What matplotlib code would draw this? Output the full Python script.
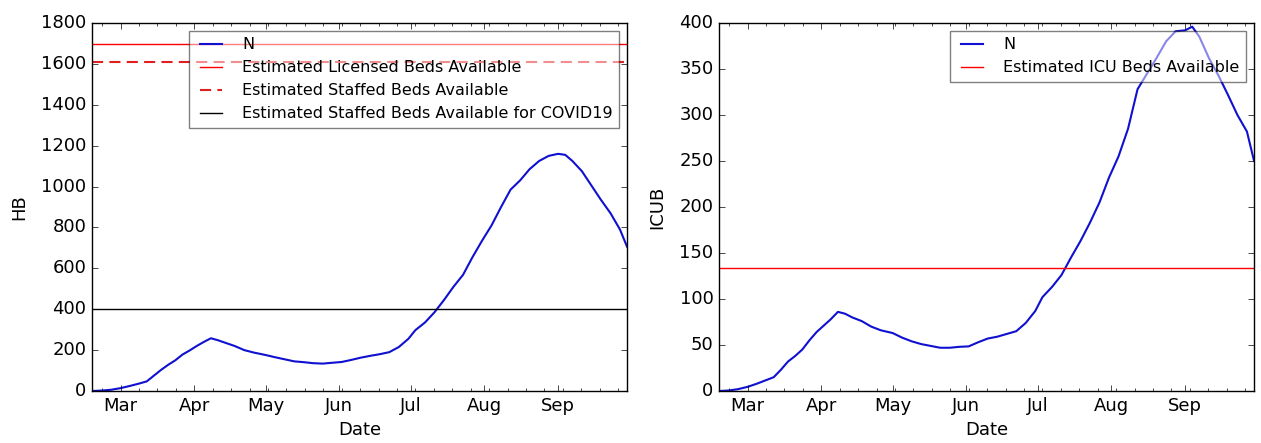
import pandas as pd
import matplotlib
matplotlib.use('Agg')
import matplotlib.pyplot as plt
import matplotlib.dates as mdates
from matplotlib.ticker import AutoMinorLocator

plt.style.use('classic')

dates = ['2020-02-18', '2020-02-22', '2020-02-26', '2020-03-01', '2020-03-05',
         '2020-03-09', '2020-03-12', '2020-03-15', '2020-03-18', '2020-03-21',
         '2020-03-24', '2020-03-27', '2020-03-30', '2020-04-02', '2020-04-05',
         '2020-04-08', '2020-04-11', '2020-04-14', '2020-04-18', '2020-04-22',
         '2020-04-26', '2020-05-01', '2020-05-05', '2020-05-09', '2020-05-13',
         '2020-05-17', '2020-05-21', '2020-05-25', '2020-05-29', '2020-06-02',
         '2020-06-06', '2020-06-10', '2020-06-14', '2020-06-18', '2020-06-22',
         '2020-06-26', '2020-06-30', '2020-07-03', '2020-07-07', '2020-07-11',
         '2020-07-15', '2020-07-19', '2020-07-23', '2020-07-27', '2020-07-31',
         '2020-08-04', '2020-08-08', '2020-08-12', '2020-08-16', '2020-08-20',
         '2020-08-24', '2020-08-28', '2020-09-01', '2020-09-04', '2020-09-07',
         '2020-09-11', '2020-09-15', '2020-09-19', '2020-09-23', '2020-09-27',
         '2020-09-30']

# hospital beds in use
hb = [0, 2, 6, 14, 25, 37, 47, 75, 103, 128,
      150, 178, 198, 220, 240, 258, 248, 236, 220, 200,
      188, 176, 165, 155, 145, 141, 136, 134, 138, 142,
      152, 163, 172, 180, 190, 215, 255, 298, 335, 385,
      445, 510, 568, 655, 735, 810, 900, 985, 1030, 1085,
      1125, 1150, 1160, 1155, 1125, 1075, 1005, 935, 870, 790,
      705]

# ICU beds in use
icub = [0, 0.5, 2, 4.5, 8, 12, 15, 23, 32, 38,
        45, 55, 64, 71, 78, 86, 84, 80, 76, 70,
        66, 63, 58, 54, 51, 49, 47, 47, 48, 48.5,
        53, 57, 59, 62, 65, 74, 87, 102, 113, 126,
        145, 163, 183, 205, 232, 255, 285, 328, 345, 362,
        380, 391, 392, 396, 385, 362, 343, 322, 300, 282,
        250]

licensed_beds = 1695
staffed_beds = 1610
staffed_covid = 400
icu_beds = 134

x = pd.to_datetime(dates)

fig = plt.figure(figsize=(12.61, 4.43), dpi=100, facecolor='white')
ax1 = fig.add_axes([0.073, 0.1174, 0.4243, 0.8307])
ax2 = fig.add_axes([0.5702, 0.1174, 0.4243, 0.8307])

ax1.plot(x, hb, color='#1010d0', lw=1.5, label='N')
ax1.axhline(licensed_beds, color='r', linestyle='-', label='Estimated Licensed Beds Available')
ax1.axhline(staffed_beds, color='#e02020', linestyle='--', dashes=(8, 4.5), lw=1.5,
            label='Estimated Staffed Beds Available')
ax1.axhline(staffed_covid, color='k', linestyle='-', label='Estimated Staffed Beds Available for COVID19')
ax1.set_ylim(0, 1800)
ax1.set_ylabel('HB', fontsize=13, labelpad=9)

ax2.plot(x, icub, color='#1010d0', lw=1.5, label='N')
ax2.axhline(icu_beds, color='r', linestyle='-', label='Estimated ICU Beds Available')
ax2.set_ylim(0, 400)
ax2.set_ylabel('ICUB', fontsize=13, labelpad=9)

for ax in (ax1, ax2):
    ax.set_xlim(x[0], x[-1])
    ax.xaxis.set_major_locator(mdates.MonthLocator())
    ax.xaxis.set_major_formatter(mdates.DateFormatter('%b'))
    ax.xaxis.set_minor_locator(AutoMinorLocator(4))
    ax.set_xlabel('Date', fontsize=13)
    ax.tick_params(labelsize=13)
    ax.legend(loc='upper right', fontsize=11.5, framealpha=0.5, handletextpad=0.95)

fig.savefig('out.png', dpi=100, facecolor='white')
